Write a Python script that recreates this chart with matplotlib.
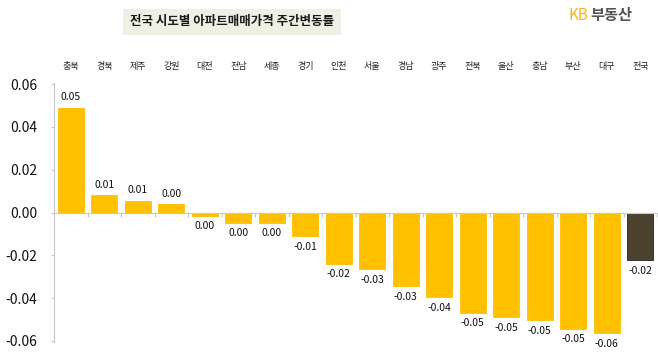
import numpy as np
import matplotlib
matplotlib.use("Agg")
import matplotlib.pyplot as plt

plt.rcParams['font.family'] = ['Noto Sans CJK KR', 'DejaVu Sans']

# regions, weekly apartment price change (%)
regions = ['충북', '경북', '제주', '강원', '대전', '전남', '세종', '경기', '인천',
           '서울', '경남', '광주', '전북', '울산', '충남', '부산', '대구', '전국']
values = [0.049, 0.008, 0.0056, 0.0038, -0.0015, -0.0047, -0.0047, -0.011, -0.024,
          -0.0264, -0.0345, -0.0397, -0.0469, -0.049, -0.0503, -0.0544, -0.0563, -0.0224]
value_labels = ['0.05', '0.01', '0.01', '0.00', '0.00', '0.00', '0.00', '-0.01', '-0.02',
                '-0.03', '-0.03', '-0.04', '-0.05', '-0.05', '-0.05', '-0.05', '-0.06', '-0.02']
yticks = [0.06, 0.04, 0.02, 0.00, -0.02, -0.04, -0.06]

title = '전국 시도별 아파트매매가격 주간변동률'

W, H = 658, 356
fig = plt.figure(figsize=(W / 100, H / 100), dpi=100)
ax = fig.add_axes([54 / W, (H - 342) / H, 603 / W, (342 - 83) / H])

x = np.arange(len(regions))
colors = ['#FFC000'] * (len(regions) - 1) + ['#4B4330']
edges = ['#FFC000'] * (len(regions) - 1) + ['#222222']
ax.bar(x, values, width=0.78, color=colors, edgecolor=edges, linewidth=0.6)

for xi, v, lab in zip(x, values, value_labels):
    if v >= 0:
        ax.annotate(lab, (xi, v), xytext=(0, 4), textcoords='offset points',
                    ha='center', va='bottom', fontsize=7.5, color='#111111')
    else:
        ax.annotate(lab, (xi, v), xytext=(0, -4), textcoords='offset points',
                    ha='center', va='top', fontsize=7.5, color='#111111')

# region names along the top
for xi, r in zip(x, regions):
    ax.text(xi, 1.062, r, transform=ax.get_xaxis_transform(), ha='center',
            va='center', fontsize=6.5, color='#222222')

ax.set_xlim(-0.5, len(regions) - 0.5)
ax.set_ylim(-0.0605, 0.0605)
ax.set_yticks(yticks)
ax.set_yticklabels([f'{t:.2f}' for t in yticks], fontsize=10, color='#111111')

ax.spines['top'].set_visible(False)
ax.spines['right'].set_visible(False)
ax.spines['bottom'].set_position(('data', 0))
ax.spines['bottom'].set_color('#c8c8c8')
ax.spines['left'].set_color('#c8c8c8')
ax.set_xticks(np.arange(len(regions) + 1) - 0.5)
ax.set_xticklabels([])
ax.tick_params(axis='x', length=3, color='#c8c8c8', direction='out')
ax.tick_params(axis='y', length=2, color='#c8c8c8', pad=10)

# title with light box
fig.text(232 / W, 1 - 22 / H, title, ha='center', va='center', fontsize=9,
         fontweight='bold', color='#1a1a1a',
         bbox=dict(boxstyle='square,pad=0.55', facecolor='#EEF0E3', edgecolor='none'))

# logo text
fig.text(588 / W, 1 - 15 / H, 'KB', ha='right', va='center', fontsize=11,
         color='#F7B718')
fig.text(590 / W, 1 - 15 / H, '부동산', ha='left', va='center', fontsize=11,
         fontweight='bold', color='#555555')

fig.savefig('out.png', dpi=100)
